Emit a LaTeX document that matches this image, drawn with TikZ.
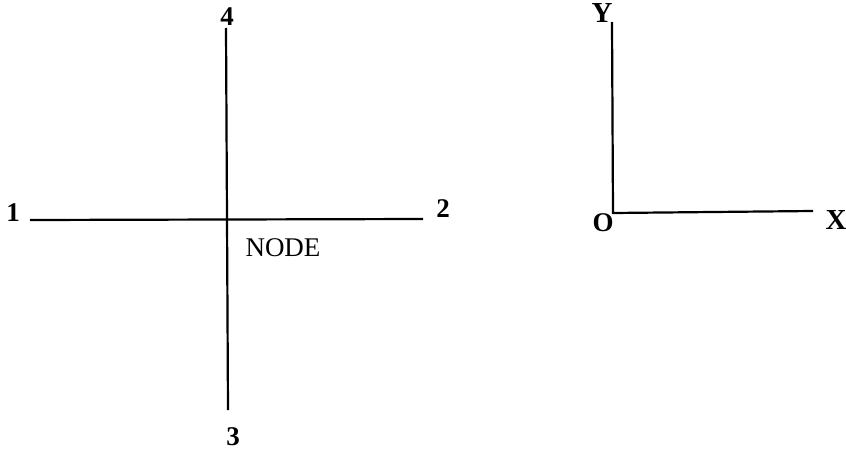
\documentclass[tikz,border=0pt]{standalone}
\usepackage{fontspec}
\setmainfont{Liberation Serif}
\begin{document}
\begin{tikzpicture}[x=1pt,y=1pt,
  axisline/.style={line width=2.2pt},
  lbl/.style={inner sep=0pt,font=\fontsize{27}{27}\selectfont\bfseries},
  nodelbl/.style={inner sep=0pt,font=\fontsize{27}{27}\selectfont}]
\useasboundingbox (0,0) rectangle (846,451);
% cross
\coordinate (L) at (30,231);
\coordinate (R) at (423,232);
\coordinate (T) at (226,423);
\coordinate (B) at (228,41);
\draw[axisline] (L) -- (R);
\draw[axisline] (T) -- (B);
\node[lbl] (n1) at (13,238) {1};
\node[lbl] (n2) at (443,242) {2};
\node[lbl] (n4) at (227,434) {4};
\node[lbl] (n3) at (233,14) {3};
\node[nodelbl] (nd) at (283,203) {NODE};
% axes
\coordinate (Oc) at (613,238);
\coordinate (Yt) at (612,429);
\coordinate (Xe) at (813,240);
\draw[axisline] (Yt) -- (Oc) -- (Xe);
\node[lbl,font=\fontsize{29}{29}\selectfont\bfseries] (ylab) at (602,438) {Y};
\node[lbl] (olab) at (603,228) {O};
\node[lbl,font=\fontsize{29}{29}\selectfont\bfseries] (xlab) at (836,231) {X};
\end{tikzpicture}
\end{document}
